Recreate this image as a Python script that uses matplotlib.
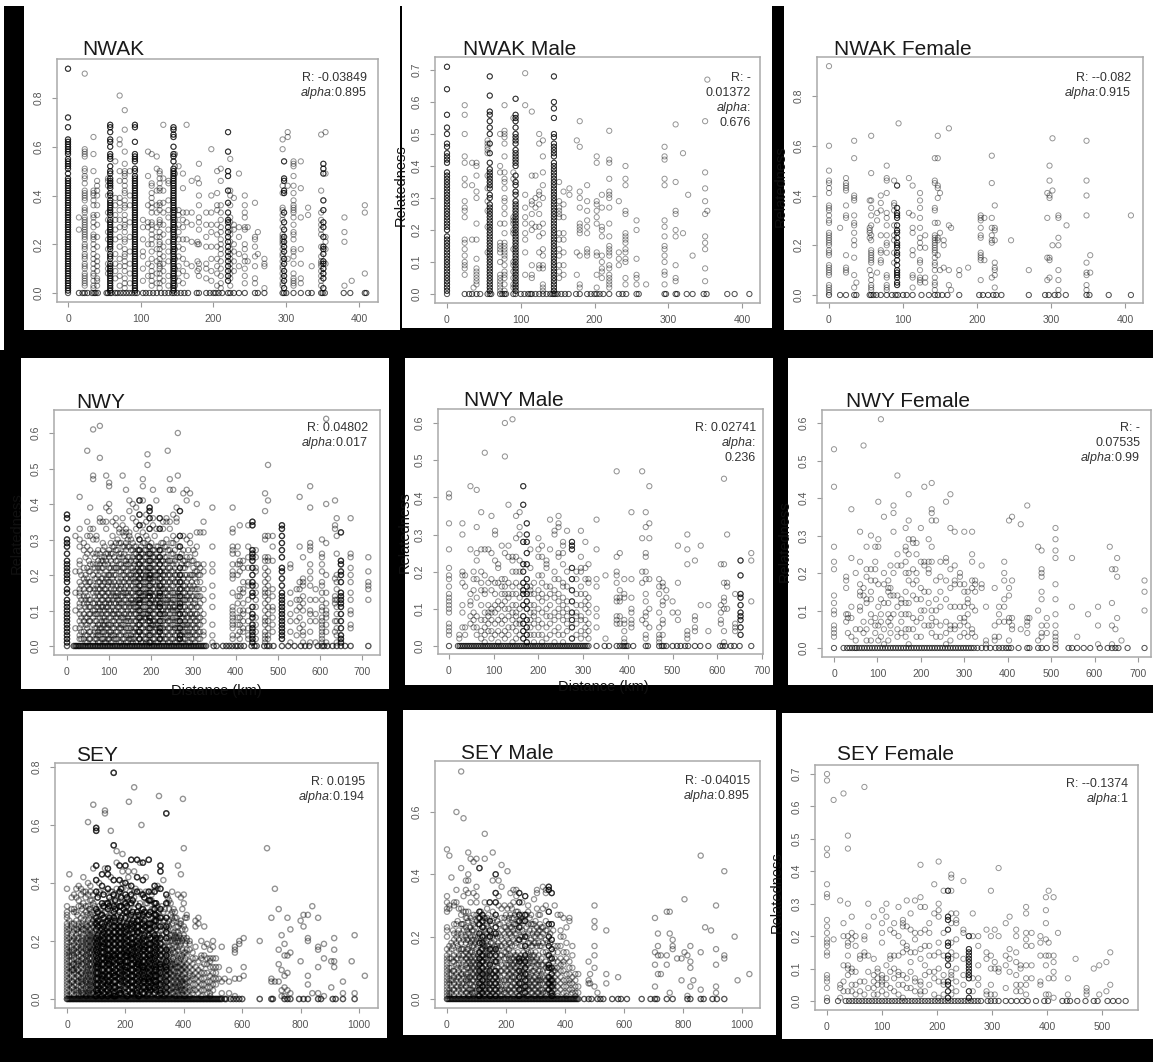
import matplotlib
matplotlib.use("Agg")
import matplotlib.pyplot as plt
from matplotlib.patches import Rectangle

plt.rcParams['font.family'] = ['Liberation Sans', 'DejaVu Sans']
plt.rcParams['mathtext.fontset'] = 'custom'
plt.rcParams['mathtext.it'] = 'Liberation Sans:italic'
plt.rcParams['mathtext.rm'] = 'Liberation Sans'

W, H = 1153, 1062

# distance of each column (km), relatedness at that distance (x100), distances with relatedness 0
nwak_dist = [0, 15, 23, 35, 40, 55, 58, 65, 71, 78, 85, 92, 103, 110, 115, 122, 126, 131, 138, 145, 147, 152, 158, 163, 170, 178, 180, 190, 197, 205, 210, 220, 223, 228, 235, 243, 247, 257, 261, 270, 295, 297, 302, 310, 320, 330, 335, 348, 351, 354, 380, 390, 408]
nwak_rel = [
    [92,72,68,63,62,61,60,59,58,57,55,54,53,52,51,49,47,46,45,44,43,42,41,40,39,38,37,36,35,34,33,32,31,30,29,28,27,26,25,24,23,22,21,20,19,18,17,16,15,14,13,12,11,10,9,8,7,6,5,4,3,2,1],
    [31,26],
    [90,59,58,57,56,51,50,48,47,45,42,41,40,39,38,35,34,33,31,30,29,28,27,26,25,24,23,22,20,19,18,16,15,14,12,11,10,8,7,6,5,4,3],
    [64,57,50,42,41,40,38,36,32,31,29,27,24,23,22,20,18,16,14,12,10,8,7,5,3,2],
    [46,44,42,40,36,32,28,23,19,15,13,11,9,6,5,3],
    [47,46,44,40,33,30,25,22,18,12,10,8],
    [69,68,66,63,62,60,57,56,55,52,50,49,47,46,45,44,43,41,40,38,37,36,35,34,33,32,30,29,28,27,26,25,24,23,22,21,20,19,18,16,15,14,12,11,10,9,8,7,6,5,4,3,2,1],
    [54,39,36,32,30,26,22,16,12,9,6],
    [81,63,61,50,46,39,37,34,30,27,23,19,14,11,7,3],
    [75,67,58,53,50,49,48,46,44,42,41,38,36,35,32,30,28,27,25,22,21,18,16,15,13,11,9,6,4,2],
    [50,40,36,29,23,17,12,8,4],
    [69,68,62,57,56,55,54,51,50,48,47,46,45,44,43,42,41,40,39,38,37,36,35,34,33,32,31,30,29,28,27,26,25,24,23,22,21,20,19,18,17,16,15,14,13,12,11,10,9,8,7,6,5,4,3,2,1],
    [30,27,22,17,15,10,5],
    [58,48,36,29,27,20,12,7],
    [57,45,44,41,39,37,35,33,29,28,26,24,22,20,17,14,11,9,7,5,3],
    [56,51,42,36,33,27,23,18,13,8,4],
    [50,49,47,45,43,42,37,36,34,30,29,28,25,23,21,20,18,16,14,12,11,10,8,6,4,2],
    [69,47,42,37,33,28,24,19,15,12,9,5],
    [46,45,38,34,31,26,21,17,13,7,3],
    [68,67,65,64,60,57,56,54,51,50,49,48,47,46,45,44,43,42,41,40,39,38,37,36,35,34,33,32,31,30,29,28,27,26,25,24,23,22,21,20,19,18,17,16,15,14,13,12,11,10,9,8,7,6,5,4,3,2,1],
    [57,52,49,34,30,27,23,18,14,10,6,3],
    [52,34,32,28,25,22,19,15,11,8,5],
    [49,43,33,30,27,22,18,14,9,4],
    [69,33,29,22,12,7],
    [46,33,28,21,11],
    [47,21,20,13,9],
    [53,45,40,36,31,29,26,20,12,10,7],
    [33,28,23,19,12,10,6],
    [59,40,33,28,25,19,14,9,5],
    [50,41,36,34,28,24,19,14,11,8,3],
    [51,46,36,33,30,27,25,22,20,18,16,13,10,7,4,2],
    [66,58,50,48,42,37,33,30,29,27,25,23,21,19,17,15,13,11,9,7,5],
    [55,42,40,36,31,29,26,24,21,18,16,14,12,10,8,6,3],
    [39,28,26,20,17,13,9],
    [49,27,23,16,11],
    [40,36,33,31,27,26,20,18,15,13,10,7,4],
    [27,13],
    [37,23,22,19,15,11,6,4],
    [25,16],
    [14,12,11,2],
    [63,59,44,41,35,34,32,30,27,24,23,22,21,20,18,16,15,13,11,10,8,6,4,3],
    [54,47,46,42,41,33,29,26,23,21,19,17,14,12,9,7,5,2],
    [66,64,44,14],
    [54,53,52,48,44,41,38,36,35,34,33,31,28,25,24,22,18,17,15,12,8,6,5,4,3],
    [54,43,31,18,12,6,4],
    [32,35],
    [11],
    [65,42,33,30,28,26,24,19,15,13,12,11,9,7,5,3],
    [53,51,49,38,34,29,27,23,19,18,16,13,12,10,8,6,2],
    [66,49,23,21,18,12],
    [31,25,21,3],
    [5],
    [36,33,8],
]
nwak_zero = [0,15,20,23,27,33,36,38,41,53,55,58,60,65,68,72,76,80,84,88,92,95,103,107,112,117,122,128,133,138,143,146,150,155,160,165,177,180,190,195,200,203,207,212,220,223,228,235,243,257,261,270,295,297,300,310,320,330,335,348,350,353,379,388,408,410]
nwak_heavy = [0, 58, 92, 145, 220, 297, 351]

nwak_male_dist = [0, 24, 34, 36, 40, 55, 58, 72, 78, 90, 93, 106, 115, 120, 125, 130, 145, 152, 158, 166, 176, 180, 190, 203, 210, 220, 233, 242, 257, 270, 295, 310, 320, 327, 333, 350, 353]
nwak_male_rel = [
    [71,64,56,52,50,47,46,44,43,42,41,38,37,36,35,34,33,32,31,30,29,28,27,26,25,24,23,22,21,20,18,17,16,15,14,13,12,11,10,9,8,7,6,5,4,3,2,1],
    [59,56,50,43,41,36,34,29,27,26,24,17,16,14,12,10,9,8,6],
    [41,34,17],
    [2],
    [41,40,37,32,30,22,17,11,8,7,6,5,4,3],
    [48,47,46,45,44,37,33,29,26,21,13],
    [68,62,57,56,54,52,50,47,44,41,39,38,37,36,35,34,33,31,30,28,27,26,25,24,23,22,21,20,19,18,17,16,15,14,13,12,11,10,9,8,7,6,5,4,3,2,1],
    [50,40,38,22,16,15,14,13,10,6,5,4,3,2,1],
    [59,51,50,49,47,43,38,36,35,33,30,29,27,25,22,19,16,15,14,13,12,11,9,7,6,5,3,1],
    [55,38,36,24,23,22,20,19,14,10,9,7,5,3,2],
    [61,56,55,54,52,50,49,48,47,45,44,43,42,41,40,37,35,34,32,31,29,28,27,26,25,24,23,22,21,20,19,18,17,16,15,14,13,12,11,10,9,8,7,6,5,4,3,2,1],
    [69,59,31,27,24,22,19,17,13,6],
    [57,37,29,28,25,22,20,9,6,5],
    [37,30,27,21],
    [50,47,32,31,28,25,21,18,13,9,8],
    [48,43,38,34,30,22,19,14,12,9,8,3,2,1],
    [68,60,58,55,50,49,47,46,45,44,43,41,40,39,38,37,36,35,34,33,32,31,30,29,28,27,26,25,24,23,22,21,20,19,18,17,16,15,14,13,12,11,10,9,8,7,6,5,4,3,2,1],
    [35,29,27,26,25,24,19,17,14,12,9,7,5],
    [32,28,24,19,17,13,9,6],
    [33,31],
    [48,13,6],
    [54,46,32,30,27,22,21,20,19,12,3,2],
    [34,29,26,23,21,19,14,13,12],
    [43,41,29,28,26,24,22,13,12,6,2],
    [31,27,21,20,18,12,10,8,7,5],
    [51,42,41,36,32,31,30,27,22,18,15,14,13,12,9,8,6,5,4,3,2],
    [29,13,11,9],
    [40,36,34,26,25,19,18,17,16,14,13,11,10,5,3],
    [23,20,11,6,5,3],
    [3],
    [46,43,42,36,34,23,21,18,15,14,12,10,7,6,3],
    [53,35,26,25,20,18,9,5,4],
    [44,19],
    [31],
    [12],
    [54,38,33,29,25,18,16,14,8,4],
    [67,26],
]
nwak_male_zero = [0,24,30,34,40,45,55,58,60,72,75,78,80,90,93,100,105,110,113,115,120,125,130,135,140,143,145,147,150,155,160,165,175,180,190,195,200,203,207,212,220,233,238,243,257,260,295,297,310,312,325,333,348,352,380,390,410]
nwak_male_heavy = [0, 58, 93, 145]

nwak_female_dist = [0, 15, 23, 34, 37, 55, 57, 65, 70, 78, 88, 92, 94, 108, 113, 123, 130, 143, 147, 150, 155, 162, 165, 176, 188, 205, 210, 220, 224, 246, 270, 295, 298, 302, 310, 321, 348, 353, 408]
nwak_female_rel = [
    [92,60,50,46,45,43,41,36,35,34,32,30,29,25,24,23,22,21,20,18,17,16,12,11,10,9,8,4,3,2,1],
    [27],
    [47,45,44,43,42,36,32,31,16,11,10,9],
    [62,55,40,39,38,32,29,28,25,22,20,15,8,3],
    [5],
    [38,27,26,25,23,10],
    [64,49,38,35,32,28,24,22,18,17,16,15,14,13,8,6,4,3,2],
    [33,30,9],
    [40,37,34,24,18,17,14,13],
    [52,47,46,41,33,31,28,24,21,20,17,8,7,4,3,2],
    [46,37,36,34,28,24,22,17,13],
    [44,35,33,32,31,28,26,25,23,21,20,19,17,16,14,12,10,9,8,7,5,4],
    [69],
    [47,33],
    [44,32,27,25,18,16,8,7,3],
    [41,38,35,31,27,23,21,19,14,13,10,7,6,5],
    [24,19,7,5],
    [55,46,45,35,34,29,24,23,22,21,20,19,18,17,15,13,12,10,7,5,4,2],
    [64,55,44,43,39,29,23,22,16],
    [41,25,10],
    [22,20,11],
    [67,28,10,4],
    [27,2],
    [10,8],
    [11],
    [32,31,30,27,24,23,17,16,15,14,6],
    [31,14],
    [56,45,31,27,24,22,21,7],
    [36,27,26,22,13,11,10,8,3],
    [22],
    [10],
    [41,31,15,6],
    [52,46,40,39,15,14,7],
    [63,42,20],
    [32,31,23,20,10,6,2],
    [28],
    [62,46,40,32,13,9,8,4,2],
    [16,9],
    [32],
]
nwak_female_zero = [0,15,23,34,37,55,57,60,64,70,78,85,90,93,100,105,113,125,135,143,147,153,160,176,203,208,215,222,226,233,270,292,297,305,310,320,348,352,378,408]
nwak_female_heavy = [92]

nwy_dist = [0, 20, 30, 40, 48, 55, 62, 70, 78, 85, 93, 100, 108, 116, 124, 132, 140, 148, 156, 164, 172, 180, 188, 196, 204, 212, 220, 228, 236, 244, 252, 260, 268, 276, 284, 292, 300, 308, 316, 324, 345, 393, 410, 430, 418, 405, 440, 448, 470, 477, 488, 510, 530, 545, 552, 560, 577, 590, 605, 615, 636, 640, 650, 673, 715, 191, 239, 263]
nwy_rel = [
    [37,36,33,30,29,28,26,24,23,22,21,20,19,18,16,15,13,12,11,10,9,8,7,6,5,4,3,2,1],
    [31,21,15,10,5],
    [42,33,30,28,24,23,21,18,16,15,14,12,11,9,7,5,3,2],
    [29,27,22,19,16,14,12,9,7,4,2],
    [55,35,31,28,26,22,19,17,14,12,10,8,6,5,3,1],
    [39,33,31,27,23,21,18,16,13,11,9,7,4,2],
    [61,48,47,33,30,26,23,20,17,15,12,10,8,6,3,1],
    [31,30,26,23,21,19,17,15,13,11,9,7,5,3,2],
    [62,53,36,35,26,23,21,18,16,14,12,10,8,6,5,3,1],
    [35,29,27,24,22,19,17,15,13,11,10,8,6,4,2],
    [48,39,35,33,26,24,21,19,16,14,12,11,9,7,5,3,1],
    [46,45,40,38,27,25,22,20,18,15,13,12,10,8,6,4,2],
    [35,31,28,26,23,21,19,17,15,13,11,9,7,5,3,1],
    [36,34,29,27,24,22,20,17,15,14,12,10,8,6,4,2],
    [33,32,29,26,25,23,21,18,16,13,12,11,9,7,5,3,1],
    [48,36,34,32,28,25,22,20,18,15,14,12,10,8,6,4,2],
    [44,33,32,29,27,24,23,21,19,17,15,13,11,9,7,5,3,1],
    [41,38,32,31,28,25,23,20,18,16,14,12,11,9,7,5,3,2],
    [40,36,29,27,25,22,21,19,17,15,13,12,10,8,6,4,2,1],
    [39,35,33,28,26,24,21,20,18,16,14,13,11,9,7,5,3,1],
    [41,37,34,30,27,25,23,21,19,17,15,13,12,10,8,6,4,2],
    [47,45,41,34,32,29,26,24,22,20,18,16,14,13,11,9,7,5,3,1],
    [37,35,31,27,25,23,21,20,18,16,15,13,11,9,8,6,4,2,1],
    [39,38,36,33,28,26,24,22,20,19,17,15,14,12,10,8,7,5,3,1],
    [44,36,34,27,25,23,21,19,18,16,14,13,11,9,7,6,4,2],
    [41,33,28,26,24,22,20,17,15,13,12,10,8,6,5,3,1],
    [36,33,27,25,23,21,19,17,15,14,12,11,9,7,5,4,2],
    [35,33,29,26,24,22,20,18,16,14,12,10,9,7,5,3,1],
    [36,35,30,28,25,23,21,19,17,15,13,12,10,8,6,4,2],
    [47,44,35,33,27,24,22,20,18,16,14,12,11,9,7,5,3,1],
    [44,37,31,29,26,23,21,19,17,15,13,11,10,8,6,4,2],
    [39,36,35,30,25,23,20,18,16,14,12,10,8,7,5,3,1],
    [38,31,28,25,22,20,18,16,14,12,11,9,7,5,3,2],
    [43,31,27,24,22,19,17,15,13,11,9,8,6,4,2,1],
    [44,41,30,25,23,20,18,16,14,13,10,8,6,5,3],
    [43,31,29,25,20,17,15,13,11,9,7,5,3,1],
    [27,24,22,20,17,14,12,10,8,6,4,2],
    [40,32,28,23,21,18,16,14,11,9,7,5,3],
    [32,22,20,18,14,12,10,8,6,4,2],
    [35,32,23,21,16,13,9,7,4,3],
    [39,28,23,21,17,14,11,6,3,1],
    [39,33,32,28,26,27,23,21,20,19,15,11,10,9,8,7,6,5,3,2],
    [34,24,23,21,16,14,10,8,6,4,2],
    [34,28,25,22,18,17,13,10,7,5,3,2],
    [24,22,18,16,15,12,10,9,7,5,4],
    [28,26,23,20,14,12,8,6,3],
    [35,34,27,26,25,24,22,20,18,17,15,14,11,9,8,6,5,4,3,2,1],
    [27,25,22,21,17,15,13,11,8,6,4,2],
    [43,38,31,30,25,24,22,20,18,16,15,14,12,10,8,7,6,4,3,2,1],
    [51,41,31,25,24,21,19,17,15,13,11,9,7,5,3,2],
    [31,28,24,16,14,11,10,8,6,4],
    [34,33,31,29,27,25,22,21,19,17,15,14,13,12,11,10,9,8,7,6,5,4,3,2],
    [23,22,15,12,9,7,4,1],
    [16,13,10,7,3],
    [42,28,18,16,13,11,8,5],
    [25,19,18,17,14,12,10,6,4,3,1],
    [45,39,29,28,27,23,21,19,17,13,10,9,7,4,1],
    [16,13,9,7,1],
    [30,26,25,23,21,18,17,15,13,11,10,8,7,6,5,4,3,2,1],
    [64,40,29,20,15,12,10,9,8,6,4,1],
    [41,34,33,19,14,13,12,7,4],
    [36,31,26,20,18,16,13,11,9,7,5,3,1],
    [32,24,23,21,20,18,15,14,13,12,11,9,7,5,3,2,1],
    [36,26,25,22,20,18,15,13,10,9,6,5],
    [25,21,18,17,16,13],
    [54,51],
    [55],
    [60,48],
]
nwy_more_dist = [34,44,52,66,74,82,89,97,104,112,120,128,136,144,152,160,168,176,184,192,200,208,216,224,232,240,248,256,264,272,280,288,296,304,312]
nwy_more_rel = [
    [20,17,13,10,8,6,4,2],
    [25,20,18,15,13,11,8,6,3,1],
    [24,21,18,16,13,11,9,7,4,2],
    [25,22,19,16,14,12,10,9,7,5,4,2],
    [27,24,22,20,18,16,14,12,11,9,6,4,3,1],
    [25,24,22,19,17,15,13,11,9,7,5,4,2],
    [28,25,23,20,18,16,14,12,10,8,7,6,4,2,1],
    [26,23,20,18,17,15,13,11,9,6,5,3,2],
    [29,26,24,22,20,18,16,14,12,10,8,6,4,3,1],
    [28,25,22,20,18,16,14,12,10,9,7,5,3,2],
    [30,27,24,22,19,17,15,14,13,11,9,8,6,4,2],
    [29,26,23,21,19,17,16,14,12,10,8,6,5,3,1],
    [31,28,26,24,22,20,18,16,15,13,11,9,8,6,4,2],
    [30,28,25,23,21,19,17,15,14,12,10,8,7,5,3,1],
    [30,27,24,22,20,19,17,15,13,12,10,9,7,5,3,2],
    [28,26,24,23,21,19,18,16,14,12,11,9,7,5,4,2],
    [31,27,25,23,22,20,18,16,15,13,11,10,8,6,4,3],
    [28,26,24,22,20,19,17,15,14,12,10,8,7,5,3,1],
    [29,27,25,23,21,19,18,16,14,13,11,9,8,6,4,2],
    [30,28,26,24,22,21,19,17,15,14,12,10,9,7,5,3],
    [29,26,24,22,20,19,17,15,13,12,10,8,6,5,3,1],
    [31,27,25,23,21,20,18,16,14,12,11,9,7,6,4,2],
    [28,25,24,22,20,18,16,14,13,11,10,8,6,4,3,1],
    [29,27,24,21,19,17,16,14,12,10,9,7,5,3,2],
    [28,25,23,21,20,18,16,15,13,11,9,8,6,4,2],
    [27,24,22,20,18,16,14,13,11,10,8,7,5,3,1],
    [29,26,24,21,19,17,15,13,12,10,8,6,4,2],
    [27,24,22,20,18,15,13,11,10,8,6,5,3,1],
    [28,25,21,19,17,15,14,12,10,9,7,5,4,2],
    [26,23,20,18,16,14,12,10,8,6,4,3,1],
    [24,22,20,17,15,13,11,9,7,6,4,2],
    [27,23,19,16,14,12,10,8,6,4,3,1],
    [24,20,18,16,14,11,9,8,6,4,2],
    [26,21,19,16,13,12,9,7,5,3,1],
    [23,20,16,14,11,8,6,4,2],
]
nwy_zero = [0,16,20,23,27,30,34,38,42,46,50,54,58,62,66,70,74,78,82,86,90,94,98,102,106,110,114,118,122,126,130,134,138,142,146,150,154,158,162,166,170,174,178,182,186,190,194,198,202,206,210,214,218,222,226,230,234,238,242,246,250,254,258,262,266,270,274,278,282,286,290,294,298,302,306,310,314,318,322,326,330,348,355,370,378,385,392,400,405,412,420,438,445,450,468,475,480,490,510,525,540,555,565,575,595,605,610,618,630,640,650,660,673,715]
nwy_heavy = [0, 172, 196, 220, 268, 440, 476, 510, 650]

nwy_male_dist = [0, 23, 30, 36, 48, 55, 62, 72, 80, 88, 95, 103, 110, 118, 125, 133, 142, 150, 158, 166, 174, 182, 190, 200, 208, 218, 226, 236, 245, 255, 264, 275, 285, 295, 305, 312, 330, 350, 375, 382, 392, 408, 432, 440, 448, 470, 478, 486, 500, 512, 533, 550, 563, 580, 608, 615, 622, 640, 652, 676]
nwy_male_rel = [
    [41,40,33,26,21,19,18,16,14,13,12,11,10,9,6,5,4,3],
    [3,2],
    [33,30,20,19,17,11,9,5],
    [19,16,5,3],
    [43,26,14,12,11,8,6],
    [20,18,15,9,7,5],
    [42,32,25,23,18,13,8,5,3],
    [36,26,20,17,15,11,7,4,2],
    [52,26,19,15,14,9,7,5,3,1],
    [26,17,11,9,8,6,4],
    [35,25,18,15,10,9,7,4,2],
    [31,30,23,17,14,11,9,6,3],
    [22,21,17,12,10,7,4,1],
    [27,18,16,14,11,8,6,3],
    [60,51,25,18,16,14,12,10,7,4,2],
    [38,27,24,17,14,13,10,8,5,3],
    [61,24,23,20,16,14,11,9,7,5,1],
    [35,29,24,20,17,14,11,9,8,6,4,2],
    [36,32,30,23,20,16,13,10,7,6,3],
    [43,38,28,22,20,17,15,14,11,8,6,4,2],
    [33,30,28,25,22,18,16,14,12,10,7,5,3,1],
    [26,21,16,15,14,11,9,7,5,3],
    [17,14,11,9,8,6,3,1],
    [29,26,24,19,15,13,10,7,5,3],
    [27,24,19,17,14,12,9,6,3,1],
    [23,22,21,16,13,10,8,5,2],
    [34,26,16,14,11,8,6,3],
    [31,30,20,18,15,13,9,7,4,1],
    [35,33,32,25,24,18,14,12,10,8,5,3],
    [28,27,25,22,17,16,13,11,9,7,3,1],
    [31,20,16,12,10,8,6,4],
    [28,27,26,21,18,15,12,9,7,5,2],
    [20,18,14,11,9,8,6,3],
    [31,24,21,20,16,14,11,8,7,4,2],
    [28,21,18,14,12,10,7,5,3],
    [22,18,17,13,11,9,6,4,2],
    [34,26,18,16,10,8,5],
    [19,2],
    [47,24,20,19,17,13,12,8,7,6],
    [25,15,13,12,8,6],
    [18,14,13,7,6,4,2,1],
    [36,18,13,10,9,7,6,5],
    [47,29,20,17,7],
    [36,32,25,24,20,18,14,12,9,8,6,3,2],
    [43,33,29,18,10,5],
    [18,16,14,9,5,3,2,1],
    [17,16,12,11,7,6,3],
    [15,13],
    [12,9],
    [27,17,9,7],
    [30,26,22,4,3,2],
    [23,8,7,5,4],
    [27,11],
    [11,4],
    [22,11,9,7,6],
    [45,22,17,13,12,10,4,1],
    [30,17,16,10],
    [14,6,5,4],
    [23,19,14,13,11,9,8,7,5,3],
    [25,23,12],
]
nwy_male_zero = [0,20,24,28,32,36,40,44,48,52,56,60,64,68,72,76,80,84,88,92,96,100,104,108,112,116,120,124,128,132,136,140,144,148,152,156,160,164,168,172,176,180,184,188,192,196,200,204,208,212,216,220,224,228,232,236,240,244,248,252,256,260,264,268,272,276,280,284,288,292,296,300,304,308,312,330,348,358,375,382,388,392,396,400,412,440,445,470,476,480,486,500,510,518,528,535,550,562,580,606,612,618,630,638,650,676]
nwy_male_heavy = [166, 174, 275, 652]

nwy_female_dist = [0, 28, 32, 40, 50, 60, 68, 75, 85, 95, 102, 108, 115, 125, 130, 137, 146, 155, 165, 172, 182, 190, 200, 208, 218, 225, 235, 245, 258, 268, 278, 290, 300, 308, 318, 325, 340, 350, 370, 380, 392, 403, 410, 430, 445, 450, 470, 478, 490, 510, 548, 560, 585, 608, 635, 640, 648, 652, 662, 715]
nwy_female_rel = [
    [53,43,27,23,21,14,12,10,9,6,5,4,3],
    [19,18,16,9,7],
    [9,8,4],
    [37,24,11,8,3],
    [20,5,2],
    [31,23,17,15,14,11,10,5],
    [54,16,14,7,4],
    [27,21,19,13,12,5,2],
    [30,21,18,15,13,9,7,2],
    [27,23,21,18,8,6,4],
    [39,27,29,17,11,6,2],
    [61,13,9,7,3],
    [35,20,17,12,5,1],
    [18,16,15,12,9,7,2],
    [22,16,14,8,6,4],
    [38,36,31,20,14,9],
    [46,25,22,14,11,5,3],
    [22,12,13,9,7,4],
    [32,27,26,23,20,15,12,9,5,3],
    [41,34,29,25,20,18,12,9,5,1],
    [29,28,21,17,14,8,5],
    [28,25,20,18,13,7,3],
    [32,23,16,13,10,8,3],
    [43,23,22,15,10,6],
    [29,23,21,20,15,12,6],
    [44,37,36,34,27,23,10,8,6,4],
    [34,18,13,10,7,3],
    [23,19,15,11,6,3],
    [39,24,23,18,13,7,4,1],
    [41,32,21,16,11,6,5,2],
    [31,22,18,17,11,6,5],
    [20,19,17,11,8,6,3],
    [31,17,15,11,8,7,4],
    [15,13,12,9,6,3],
    [31,25,23,18,16,11,5,4],
    [18,17,15,10,3],
    [22,17,16],
    [11,2,1],
    [16,6,3,2],
    [11,9,7,3],
    [23,20,18,13,11,7],
    [34,16,14,8,7,2],
    [35,18,8,6,5],
    [33,5],
    [38,8,7,6,4],
    [8],
    [27,10,2],
    [26,21,20,19,15,13,6,4,3],
    [8,6,4],
    [32,29,26,24,17,13,9,6,4,3,2,1],
    [24,11],
    [3],
    [9],
    [11,6,1],
    [27],
    [21,12,6,1],
    [21,5],
    [24,19,8],
    [2],
    [18,15,10],
]
nwy_female_zero = [0,22,30,36,42,48,52,58,64,70,76,82,88,94,100,106,112,118,124,130,136,142,148,154,160,166,172,178,184,190,196,202,208,214,220,226,232,238,244,250,256,262,268,274,280,286,292,298,304,310,316,322,330,340,350,360,372,380,388,396,402,408,425,445,450,470,478,490,510,540,548,560,575,590,612,630,640,648,655,676,715]

sey_dist = [0, 8, 16, 24, 32, 40, 48, 56, 64, 72, 80, 90, 100, 110, 120, 130, 140, 150, 160, 170, 180, 190, 200, 210, 220, 230, 240, 250, 260, 270, 280, 290, 300, 310, 320, 330, 340, 350, 360, 370, 380, 390, 400, 410, 420, 430, 440, 450, 460, 470, 480, 490, 500, 510, 520, 530, 540, 555, 575, 590, 605, 660, 685, 700, 712, 725, 735, 745, 755, 765, 800, 810, 825, 840, 860, 880, 905, 915, 945, 975, 985, 1020]
sey_rel = [
    [38,32,30,29,28,26,25,24,23,22,21,20,19,18,17,16,15,14,13,12,11,10,9,8,7,6,5,4,3,2,1],
    [43,27,24,21,18,16,15,13,11,9,7,5,3,1],
    [35,31,26,25,22,20,18,17,15,13,11,10,8,6,4,2],
    [36,31,30,26,24,21,19,17,15,14,12,10,9,7,5,3,1],
    [38,35,30,27,24,22,20,18,16,14,12,11,9,7,5,3,2],
    [39,34,32,26,25,23,21,19,17,15,13,12,10,8,6,4,2,1],
    [38,36,32,28,25,23,20,18,17,15,13,11,9,7,6,4,3,1],
    [42,37,33,29,27,24,22,20,18,16,14,12,10,8,7,5,3,2],
    [37,35,32,30,26,24,21,19,17,15,13,11,9,8,6,4,2,1],
    [61,40,36,32,27,25,23,21,19,17,15,13,11,10,8,6,4,2],
    [39,37,34,31,29,26,24,22,20,18,16,14,12,10,8,6,5,3,1],
    [67,45,36,33,29,27,25,22,20,18,17,15,13,11,9,7,5,3,2],
    [59,58,46,41,37,31,28,26,24,21,19,17,15,13,11,9,7,5,3,1],
    [40,37,36,32,30,27,25,23,21,19,17,15,13,12,10,8,6,4,2],
    [43,39,33,29,26,24,22,20,18,16,14,12,10,8,7,5,3,1],
    [45,37,33,30,28,26,24,21,19,17,15,13,11,9,8,6,4,2],
    [45,43,38,33,31,27,25,23,21,19,17,15,14,12,10,8,6,5,3,1],
    [58,42,37,34,29,27,24,22,20,18,16,14,12,11,9,7,5,3,2],
    [53,41,36,32,30,28,25,23,21,19,17,15,13,11,9,8,6,4,2,1],
    [51,47,38,35,32,28,26,24,22,20,18,16,14,12,10,8,6,4,3,1],
    [46,41,37,32,30,27,25,23,21,19,17,15,13,11,9,7,5,3,2],
    [50,44,40,38,34,29,26,24,22,20,18,16,14,13,11,9,7,5,3,1],
    [46,40,36,33,30,28,25,23,21,19,17,15,13,11,10,8,6,4,2],
    [44,42,39,34,31,29,27,25,22,20,18,16,15,13,11,9,7,5,3,1],
    [48,39,36,33,29,26,24,21,19,17,15,14,12,10,8,6,4,2],
    [44,37,35,31,28,26,23,21,19,17,15,13,11,9,8,6,5,3,1],
    [48,42,37,30,27,25,23,20,18,16,14,12,11,9,7,5,3,2],
    [47,37,33,29,27,24,22,20,18,16,14,13,11,9,7,5,3,1],
    [47,41,36,31,29,26,24,21,19,17,15,13,11,10,8,6,4,2],
    [42,37,33,30,28,25,23,20,18,16,14,12,10,8,6,4,3,1],
    [48,37,34,29,26,24,22,19,17,15,13,11,9,7,6,4,2],
    [37,36,34,31,28,26,23,21,19,16,14,12,10,8,7,5,3,1],
    [39,37,33,31,29,27,25,22,20,18,16,14,12,10,8,6,4,2],
    [39,38,32,30,28,25,22,21,18,16,14,12,9,8,6,4,1],
    [46,44,38,31,28,25,21,19,17,15,12,11,9,7,5,3,2],
    [41,30,27,25,22,18,16,14,13,11,9,6,5,3,1],
    [36,33,28,25,23,21,17,15,13,11,10,8,6,4,2],
    [34,31,27,25,21,18,17,15,13,10,9,7,5,3,1],
    [37,30,28,26,22,20,17,13,12,10,8,6,4,2],
    [30,28,22,20,18,16,12,11,9,7,5,4,1],
    [46,36,25,23,21,20,17,14,11,9,8,6,4,2],
    [43,35,27,26,21,19,14,12,10,7,6,4,3],
    [36,33,25,22,21,16,13,11,9,7,5,3,1],
    [29,28,21,20,17,15,12,10,7,6,4,2],
    [20,19,17,13,11,9,8,6,4,3,1],
    [16,14,12,10,8,7,5,3,2],
    [27,25,18,14,11,9,7,5,3],
    [28,26,13,10,8,6,4,2],
    [20,15,14,11,9,7,5,3,1],
    [25,18,15,12,9,7,5,3],
    [19,14,12,9,6,4,2],
    [17,14,13,11,8,6,4,2,1],
    [20,18,14,11,9,7,5,3],
    [14,11,9,7,5],
    [11,7],
    [18,6,2],
    [7],
    [10,6,2],
    [18,17,16,7,1],
    [20,19,7],
    [21,11,8],
    [20],
    [52],
    [28,7,6],
    [38,6],
    [31,17,12,6],
    [22,10,3,1],
    [19,15,8,4,1],
    [28,15,9,3],
    [24,16,2],
    [27,13],
    [29,25],
    [29,21,20,8,5],
    [32,2],
    [28,17,18,11,2],
    [19,14,1],
    [13,4],
    [21,17,13,11],
    [6,2],
    [13],
    [22,2],
    [8],
]
sey_top_dist = [130, 160, 212, 230, 255, 315, 340, 397, 400]
sey_top_rel = [[65,64], [78], [68], [73], [60], [70], [64], [69], [52]]
sey_more_dist = [20,36,52,68,76,85,95,105,115,125,135,145,155,165,175,185,195,205,215,225,235,245,255,265,275,285,295,305,315,325,335,345,355,365,375,385,395,405]
sey_more_rel = [
    [23,20,16,12,10,6,4],
    [29,24,21,18,16,13,10,8,6,3],
    [31,26,24,21,19,16,14,12,9,6,5,2],
    [29,25,22,20,18,16,14,12,10,7,5,3,1],
    [31,28,24,22,20,18,16,14,12,9,7,5,3,2],
    [34,30,26,23,21,19,17,16,14,12,10,8,6,4,2],
    [32,28,26,23,21,20,18,16,14,12,10,8,6,4,1],
    [35,30,27,25,22,20,18,16,14,12,11,9,7,5,3,2],
    [31,29,26,24,22,20,18,16,15,13,11,9,7,5,3,1],
    [36,32,28,25,23,21,19,18,16,14,12,10,8,6,4,2],
    [33,30,27,24,22,20,18,16,14,13,11,9,7,5,3,1],
    [35,32,28,26,23,21,19,17,15,13,12,10,8,6,4,2],
    [37,33,29,27,25,22,20,18,16,15,13,11,9,7,5,3],
    [34,31,27,25,23,21,19,17,15,14,12,10,8,6,4,1],
    [36,33,29,26,24,22,20,18,16,15,13,11,9,7,5,3],
    [38,35,32,28,25,23,21,19,17,15,13,12,10,8,6,2],
    [33,31,27,25,23,21,19,17,16,14,12,10,8,6,4,3],
    [35,32,30,26,24,22,20,18,16,15,13,11,9,7,5,1],
    [37,33,28,26,24,22,20,18,17,15,13,11,9,7,5,3],
    [34,30,27,25,23,21,19,18,16,14,12,10,8,6,4,2],
    [38,33,29,26,24,22,20,18,16,15,13,11,9,7,5,2],
    [32,29,27,25,23,21,19,17,15,13,12,10,8,6,4,1],
    [36,31,28,26,24,22,20,18,16,14,12,11,9,7,5,3],
    [35,30,27,25,22,20,18,17,15,13,11,9,7,6,4,2],
    [33,29,26,24,22,20,18,16,14,12,11,9,7,5,3,1],
    [34,30,26,24,21,19,17,15,14,12,10,8,6,4,3],
    [31,28,26,23,21,19,17,15,13,11,9,8,6,4,2],
    [33,29,27,24,21,19,17,15,13,11,10,8,6,5,3],
    [30,27,25,22,20,18,16,14,12,10,8,7,5,3,1],
    [32,28,24,22,19,17,15,13,12,10,8,6,4,2],
    [31,27,24,20,18,16,14,12,11,9,7,5,3,1],
    [35,33,26,24,20,18,16,14,12,10,8,7,5,3],
    [33,29,24,22,20,16,14,12,11,9,7,5,3,2],
    [31,27,23,21,19,16,14,12,10,8,6,4,2],
    [28,25,23,21,18,15,13,11,8,6,4,3,1],
    [26,22,20,18,15,13,11,9,7,5,3,1],
    [31,24,20,17,15,12,10,8,6,5,3,2],
    [28,24,19,16,14,11,9,7,5,3,1],
]
sey_zero = [0,5,10,15,20,25,30,35,40,45,50,55,60,65,70,75,80,85,90,95,100,105,110,115,120,125,130,135,140,145,150,155,160,165,170,175,180,185,190,195,200,205,210,215,220,225,230,235,240,245,250,255,260,265,270,275,280,285,290,295,300,305,310,315,320,325,330,335,340,345,350,355,360,365,370,375,380,385,390,395,400,405,410,415,420,425,430,435,440,445,450,455,460,465,470,475,480,485,490,495,500,505,510,515,520,525,530,540,545,560,570,580,590,600,660,700,705,745,755,765,795,810,825,860,870,910,920,945,985]
sey_heavy = [100,120,140,160,180,200,220,240,260,280,300,320,340,105,125,145,165,185,205,225,245,265,285,305]

sey_male_dist = [0, 8, 15, 24, 32, 40, 48, 56, 64, 72, 80, 90, 100, 110, 120, 128, 136, 145, 155, 165, 175, 185, 195, 205, 215, 225, 235, 245, 255, 265, 275, 285, 295, 305, 315, 325, 335, 345, 355, 365, 375, 385, 395, 405, 415, 425, 435, 445, 500, 480, 485, 540, 510, 580, 705, 715, 725, 745, 755, 765, 780, 795, 805, 815, 825, 835, 860, 875, 895, 912, 940, 975, 985, 1025]
sey_male_rel = [
    [48,33,31,29,28,23,22,20,16,14,13,12,11,10,9,8,7,6,5,4,3,2,1],
    [46,30,29,17,15,13,10,8,6,5,3,2,1],
    [39,18,16,13,10,8,6,4,2],
    [31,30,24,21,19,14,12,9,7,5,3,1],
    [60,35,31,24,20,18,15,13,11,8,6,4,2],
    [29,22,19,16,14,11,9,7,5,3,1],
    [73,42,29,27,24,21,18,16,13,10,8,6,4,2],
    [58,33,28,24,22,19,16,14,12,9,7,5,3,1],
    [38,35,28,26,23,20,18,15,13,11,8,6,4,2],
    [47,40,38,34,28,25,21,19,16,14,12,10,8,6,3,1],
    [45,31,26,23,20,18,15,13,11,9,7,5,3],
    [44,34,27,24,22,19,17,14,12,10,8,6,4,2,1],
    [45,36,33,31,27,25,21,19,16,13,11,9,7,5,3],
    [42,28,26,24,21,18,15,13,11,9,7,5,3,1],
    [27,25,23,20,18,16,14,12,10,8,6,4,2],
    [53,45,31,26,22,20,17,15,13,11,8,6,4,3,1],
    [29,26,24,21,19,17,14,12,9,7,5,2],
    [31,25,22,20,16,14,11,9,7,5,3,1],
    [47,38,28,25,20,18,16,13,11,8,6,4,2],
    [40,34,31,27,23,21,16,14,12,9,7,5,3,1],
    [38,33,30,24,21,18,16,13,10,8,6,4,2],
    [43,36,29,26,22,19,17,14,11,9,6,4,3,1],
    [30,26,23,21,18,15,13,10,8,6,3,2],
    [41,29,25,22,19,16,14,11,9,7,5,3,1],
    [34,30,27,23,21,18,14,12,10,8,6,4,2],
    [35,31,26,24,22,19,15,13,11,9,7,5,3,1],
    [35,33,28,24,21,18,14,12,10,8,6,4,2],
    [34,31,27,25,23,19,13,12,9,7,5,3,1],
    [31,27,25,22,20,17,13,11,9,7,5,3,2],
    [33,27,25,20,17,14,12,10,8,6,4,2],
    [30,28,24,21,18,15,13,11,8,6,4,3,1],
    [27,24,19,17,15,13,10,8,6,4,2],
    [32,24,22,20,18,14,12,9,7,5,3,1],
    [35,34,29,23,21,17,13,11,8,6,4,2],
    [27,24,22,20,17,12,9,7,6,5,3,1],
    [36,29,23,21,18,15,11,9,7,5,3,2],
    [35,34,30,25,22,19,15,12,10,6,4,2,1],
    [36,35,28,24,20,17,14,11,10,7,5,3],
    [34,24,19,16,13,10,8,6,4,2,1],
    [30,17,13,10,9,7,5,3],
    [27,17,15,12,10,8,6,4,2,1],
    [27,22,20,17,13,11,9,7,5,3],
    [26,20,15,12,11,9,6,4,2],
    [23,18,15,13,8,6,4,2,1],
    [26,25,12,10,8,6,5,3],
    [17,14,10,7,5,3,2],
    [8,6,4,2,1],
    [8,4,2],
    [30,25,23,17,14,10,4],
    [12,6,5],
    [8,5],
    [22,8,5],
    [2],
    [7],
    [26,15,11,4],
    [21,17,14,8],
    [14,8],
    [28,14,11],
    [28,21,2],
    [19,17,16],
    [13],
    [13,6],
    [32,15],
    [14,1],
    [17,12,10,4],
    [6],
    [46,15,3],
    [23],
    [22],
    [30,16,11,4,2],
    [41,14,13],
    [20],
    [6],
    [8],
]
sey_male_more_dist = [20,36,52,68,76,85,95,105,115,124,132,140,150,160,170,180,200,210,220,230,240,250,260,270,280,290,300,310,320,340,350,360]
sey_male_more_rel = [
    [22,17,12,9,6,3],
    [25,21,17,13,10,7,4],
    [24,20,16,14,11,8,5,3],
    [26,22,19,16,13,10,7,5,2],
    [23,21,17,14,12,10,7,5,3,1],
    [25,22,19,17,15,12,10,8,6,3,2],
    [23,20,18,15,13,11,9,7,4,2],
    [26,24,20,17,14,12,10,8,6,4,1],
    [28,22,19,16,14,12,10,8,5,3,2],
    [26,23,19,17,14,12,9,7,5,3,1],
    [25,21,18,16,13,11,9,7,5,3],
    [27,23,20,17,15,13,10,8,6,4,2],
    [24,21,18,16,14,12,10,8,5,3,1],
    [26,21,19,17,15,12,9,7,5,3],
    [25,20,17,15,12,10,8,6,4,2],
    [24,20,17,14,12,9,7,5,3,1],
    [27,23,20,17,15,13,11,9,6,4,2],
    [26,24,21,18,16,13,11,8,6,3],
    [29,26,23,20,17,13,11,9,7,4,2],
    [27,24,21,17,14,12,10,7,5,3],
    [28,25,22,19,15,13,11,9,6,4,1],
    [26,23,20,17,14,12,10,8,5,3],
    [25,21,19,15,13,11,9,7,4,2],
    [27,23,20,16,13,11,8,6,4,1],
    [26,22,18,14,12,10,7,5,3],
    [24,21,17,14,12,9,6,4,2],
    [25,20,18,15,12,10,7,5,3,1],
    [27,22,18,14,11,9,6,4,2],
    [23,20,17,13,11,8,6,3,1],
    [22,18,14,11,9,7,5,3],
    [21,18,13,10,7,6,5,4,2],
    [22,15,12,9,6,5,4,3,1],
]
sey_male_zero = [0,5,10,15,20,25,30,35,40,45,50,55,60,65,70,75,80,85,90,95,100,105,110,115,120,125,130,135,140,145,150,155,160,165,170,175,180,185,190,195,200,205,210,215,220,225,230,235,240,245,250,255,260,265,270,275,280,285,290,295,300,305,310,315,320,325,330,335,340,345,350,355,360,365,370,375,380,385,390,395,400,405,410,415,420,425,430,435,440,445,465,480,490,510,520,530,560,580,590,610,660,690,705,712,745,765,815,825,860,870,900,915,940]
sey_male_heavy = [110, 120, 145, 165, 245, 265, 345, 355]

sey_female_dist = [0, 12, 24, 30, 38, 45, 52, 60, 68, 75, 85, 92, 100, 108, 115, 122, 130, 138, 145, 152, 160, 170, 178, 186, 195, 203, 212, 220, 226, 235, 248, 258, 265, 275, 290, 298, 305, 312, 325, 332, 344, 352, 362, 372, 388, 398, 403, 412, 420, 438, 452, 472, 485, 495, 508, 515]
sey_female_rel = [
    [70,68,47,45,36,33,32,25,23,21,19,18,17,15,14,8,7,6,4,1],
    [62,19],
    [31,5,4,1],
    [64,24,20,11,6,3],
    [51,47,30,20,18,17,14,11,10,8,3],
    [26,21,19,10,9,5,3],
    [20,17,9,5,2],
    [14,13,6,3],
    [66,20,19,15,14,6,2],
    [30,23,14,9,4],
    [26,13,8,6,4,2],
    [10,9,7,5,2],
    [28,24,21,18,8,7,6,5,3],
    [30,26,11,7,5,2],
    [22,14,13,9,4],
    [24,21,14,10,7,3],
    [29,20,14,9,8,5,2],
    [25,24,23,18,15,8,5,1],
    [31,23,17,16,7,4],
    [27,22,15,12,9,4],
    [31,21,19,15,7,6,3],
    [42,32,29,21,16,13,6,5,3,2],
    [29,22,17,11,8,3],
    [24,21,17,14,9,5],
    [36,27,14,9,7,2],
    [43,30,28,26,18,15,10,6,1],
    [34,21,14,8,6,5,2],
    [34,26,25,22,18,17,14,13,11,6,5,3,1],
    [39,38,34,27,24,18,15,13,9,8,7,4,2],
    [27,25,24,19,14,10,6,3],
    [37,22,21,13,8,5],
    [20,16,15,14,13,12,11,10,9,8,7,3,1],
    [27,20,7,3],
    [20,17,11,7,5],
    [22,15,13,3,2],
    [34,20,14,10,5,2],
    [22,12,10,2],
    [41,20,9,10],
    [24,14,11,4],
    [26,16,13,9],
    [22,20,15,12,8,5,3],
    [11,10,5,3],
    [29,27,21,19,17,11,7,5,2],
    [21,17,11,7],
    [20,18,14,6,5],
    [32,28,24,19,14,11,2],
    [34,18,14,7,2],
    [32,14,12,9,7,1],
    [21],
    [7,2],
    [13],
    [4,3,2],
    [10],
    [11,2],
    [12,3],
    [15,5],
]
sey_female_zero = [0,20,34,40,46,52,58,64,70,76,82,88,94,100,106,112,118,124,130,136,142,148,154,160,166,172,178,184,190,196,202,208,214,220,226,232,238,244,250,256,262,268,274,280,292,298,305,312,325,335,345,355,365,380,395,402,428,436,442,455,470,485,492,510,520,530,543]
sey_female_heavy = [220, 258]

names = ["NWAK", "NWAK Male", "NWAK Female", "NWY", "NWY Male", "NWY Female", "SEY", "SEY Male", "SEY Female"]
dists = [nwak_dist, nwak_male_dist, nwak_female_dist, nwy_dist + nwy_more_dist, nwy_male_dist, nwy_female_dist,
         sey_dist + sey_top_dist + sey_more_dist, sey_male_dist + sey_male_more_dist, sey_female_dist]
rels = [nwak_rel, nwak_male_rel, nwak_female_rel, nwy_rel + nwy_more_rel, nwy_male_rel, nwy_female_rel,
        sey_rel + sey_top_rel + sey_more_rel, sey_male_rel + sey_male_more_rel, sey_female_rel]
zeros = [nwak_zero, nwak_male_zero, nwak_female_zero, nwy_zero, nwy_male_zero, nwy_female_zero, sey_zero, sey_male_zero, sey_female_zero]
# columns where many pairs fall on the same spot
heavy = [nwak_heavy, nwak_male_heavy, nwak_female_heavy, nwy_heavy, nwy_male_heavy, [], sey_heavy, sey_male_heavy, sey_female_heavy]
notes = [
    ["R: -0.03849", "$\\mathit{alpha}$:0.895"],
    ["R: -", "0.01372", "$\\mathit{alpha}$:", "0.676"],
    ["R: --0.082", "$\\mathit{alpha}$:0.915"],
    ["R: 0.04802", "$\\mathit{alpha}$:0.017"],
    ["R: 0.02741", "$\\mathit{alpha}$:", "0.236"],
    ["R: -", "0.07535", "$\\mathit{alpha}$:0.99"],
    ["R: 0.0195", "$\\mathit{alpha}$:0.194"],
    ["R: -0.04015", "$\\mathit{alpha}$:0.895"],
    ["R: --0.1374", "$\\mathit{alpha}$:1"],
]
x_ticks = [[0,100,200,300,400]]*3 + [[0,100,200,300,400,500,600,700]]*3 + [[0,200,400,600,800,1000]]*2 + [[0,100,200,300,400,500]]
y_ticks = [
    [0,.2,.4,.6,.8],
    [0,.1,.2,.3,.4,.5,.6,.7],
    [0,.2,.4,.6,.8],
    [0,.1,.2,.3,.4,.5,.6],
    [0,.1,.2,.3,.4,.5,.6],
    [0,.1,.2,.3,.4,.5,.6],
    [0,.2,.4,.6,.8],
    [0,.2,.4,.6],
    [0,.1,.2,.3,.4,.5,.6,.7],
]

# layout in pixels of the reference
white = [(24,6,400,330), (402,6,772,328), (784,6,1153,330),
         (21,358,389,689), (405,358,773,685), (788,358,1153,685),
         (23,711,387,1038), (403,710,776,1035), (782,713,1153,1039)]
boxes = [(57,59,378,302), (435,57,760,303), (817,57,1143,303),
         (54,410,380,655), (438,409,763,654), (822,410,1151,657),
         (55,763,378,1008), (435,761,760,1008), (815,765,1138,1010)]
# x pixel of first tick, x pixel of last tick, y pixel of 0, y pixel of top tick
scales = [(68,359,293,98), (447,742,294,70), (829,1125,295,96),
          (67,362,646,433), (449,762,646,423), (834,1138,648,423),
          (67,359,999,767), (447,742,999,812), (827,1102,1001,774)]
title_pos = [(82,55), (463,55), (834,55), (76,408), (464,406), (846,407), (76,761), (461,759), (837,760)]
note_pos = [(367,78), (751,78), (1131,78), (368,428), (756,428), (1140,428), (365,782), (750,781), (1128,784)]
edge_widths = [0.75, 0.7, 0.7, 0.9, 0.75, 0.7, 1.0, 0.9, 0.7]

fig = plt.figure(figsize=(W/100, H/100), dpi=100, facecolor='black')

def add_white(x0, y0, x1, y1):
    fig.add_artist(Rectangle((x0/W, 1-y1/H), (x1-x0)/W, (y1-y0)/H, transform=fig.transFigure,
                             facecolor='white', edgecolor='none', zorder=-1))

# white strips round the top left of the scan
add_white(0, 0, W, 6)
add_white(0, 0, 4, 350)

for i in range(9):
    add_white(*white[i])
    L, T, R, B = boxes[i]
    ax = fig.add_axes([L/W, 1-B/H, (R-L)/W, (B-T)/H])

    px0, px1, py0, py1 = scales[i]
    xt = x_ticks[i]
    yt = y_ticks[i]
    km_per_px = (xt[-1]-xt[0])/(px1-px0)
    rel_per_px = (yt[-1]-yt[0])/(py0-py1)
    ax.set_xlim(xt[0]-(px0-L)*km_per_px, xt[-1]+(R-px1)*km_per_px)
    ax.set_ylim(-(B-py0)*rel_per_px, yt[-1]+(py1-T)*rel_per_px)

    xs = []
    ys = []
    for d, column in zip(dists[i], rels[i]):
        times = 3 if d in heavy[i] else 1
        for r in column:
            xs += [d]*times
            ys += [r/100]*times
    for d in zeros[i]:
        xs += [d, d]
        ys += [0, 0]
    ax.scatter(xs, ys, s=14, facecolors='none', edgecolors=(0, 0, 0, 0.42), linewidths=edge_widths[i], clip_on=False, zorder=3)

    ax.set_xticks(xt)
    ax.set_yticks(yt)
    ax.set_xticklabels([str(v) for v in xt])
    ax.set_yticklabels(["%.1f" % v for v in yt], rotation=90, va='center')
    ax.tick_params(axis='both', length=3.5, width=0.8, color='#999999', labelcolor='#555555', labelsize=7.5, pad=5)
    ax.tick_params(axis='y', pad=6)
    for s in ax.spines.values():
        s.set_color('#aaaaaa')
        s.set_linewidth(1.1)

    tx, ty = title_pos[i]
    fig.text(tx/W, 1-ty/H, names[i], fontsize=15, color='#1a1a1a', ha='left', va='baseline', zorder=5)

    nx, ny = note_pos[i]
    for line in notes[i]:
        fig.text(nx/W, 1-ny/H, line, fontsize=9, color='#333333', ha='right', va='center', zorder=5)
        ny += 15

# axis titles that were cut off by the black frames of the scan
for lx, ly in [(401,185), (781,186), (17,533), (405,532), (785,541), (777,892)]:
    fig.text(lx/W, 1-ly/H, "Relatedness", fontsize=10.5, color='#111111', rotation=90, ha='center', va='center', zorder=5)
for lx, ly in [(216,691), (603,687)]:
    fig.text(lx/W, 1-ly/H, "Distance (km)", fontsize=10.5, color='#111111', ha='center', va='center', zorder=5)

fig.savefig('out.png', dpi=100, facecolor='black')
